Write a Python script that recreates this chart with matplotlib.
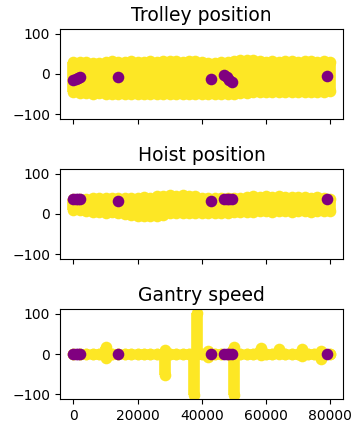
import matplotlib
matplotlib.use("Agg")
import matplotlib.pyplot as plt

# ---- data ----
titles = ["Trolley position", "Hoist position", "Gantry speed"]

# yellow series: envelope (min/max) per sampled time
trolley_x = [0, 2000, 4000, 6000, 8000, 10000, 12000, 14000, 16000, 18000, 20000,
             22000, 24000, 26000, 28000, 30000, 32000, 34000, 36000, 38000, 40000,
             42000, 44000, 46000, 48000, 50000, 52000, 54000, 56000, 58000, 60000,
             62000, 64000, 66000, 68000, 70000, 72000, 74000, 76000, 78000, 79800]
trolley_hi = [30, 31, 30, 27, 28, 31, 32, 30, 31, 32, 31,
              30, 32, 31, 32, 33, 32, 31, 32, 33, 31,
              27, 28, 30, 31, 33, 34, 35, 34, 33, 31,
              32, 31, 33, 32, 31, 32, 33, 31, 32, 30]
trolley_lo = [-46, -48, -48, -49, -48, -50, -49, -50, -49, -50, -50,
              -49, -51, -50, -49, -50, -51, -50, -49, -50, -51,
              -50, -49, -50, -50, -49, -48, -47, -45, -44, -45,
              -44, -45, -44, -45, -44, -45, -44, -45, -44, -42]

hoist_x = trolley_x
hoist_hi = [38, 38, 37, 40, 41, 40, 41, 40, 41, 40, 41,
            42, 41, 44, 46, 47, 46, 47, 46, 45, 41,
            40, 41, 40, 41, 40, 41, 42, 44, 43, 44,
            43, 44, 42, 43, 43, 42, 41, 42, 40, 38]
hoist_lo = [9, 9, 8, 5, 4, 3, 4, 3, 0, -3, -4,
            -4, -5, -4, -3, 2, 3, 2, 3, 2, 3,
            2, 3, 3, 3, 4, 4, 5, 6, 7, 7,
            6, 7, 7, 6, 7, 7, 6, 7, 7, 7]

gantry_x = [0, 2000, 4000, 6000, 8000, 10200, 12000, 14000, 16000, 18000, 20000,
            22000, 24000, 26000, 28400, 30000, 32000, 34000, 36000, 37600, 38400,
            40000, 41800, 44000, 46000, 48000, 50000, 52000, 54000, 56000, 58300,
            60000, 62000, 63900, 66000, 68000, 70000, 71100, 73000, 75000, 77000, 79800]
gantry_hi = [1, 1, 1, 1, 1, 17, 1, 1, 1, 1, 1,
             1, 1, 1, 10, 1, 1, 1, 1, 0, 102,
             1, 7, 1, 1, 1, 18, 1, 1, 1, 14,
             1, 1, 13, 1, 1, 1, 13, 1, 1, 8, 1]
gantry_lo = [-1, -1, -1, -1, -1, -10, -1, -1, -1, -1, -1,
             -1, -1, -1, -52, -1, -1, -1, -1, -102, 0,
             -1, -8, -1, -1, -1, -102, -1, -1, -1, -3,
             -1, -1, -1, -1, -1, -1, -5, -1, -1, -12, -1]

# purple points (events)
event_x = [0, 700, 1400, 2000, 13900, 43000, 47000, 47800, 48600, 49300, 79000]
trolley_ev = [-14, -12, -9, -8, -8, -12, -3, -7, -14, -20, -4]
hoist_ev = [37, 37, 37, 37, 33, 32, 37, 37, 37, 37, 37]
gantry_ev = [0, 0, 0, 0, 0, 0, 0, 0, 0, 0, 0]

y_ticks = [-100, 0, 100]

series = [
    (trolley_x, trolley_lo, trolley_hi, trolley_ev),
    (hoist_x, hoist_lo, hoist_hi, hoist_ev),
    (gantry_x, gantry_lo, gantry_hi, gantry_ev),
]

YELLOW = "#fde725"
PURPLE = "purple"
MS = 70  # marker area (pt^2)
LW = 8.4

fig, axes = plt.subplots(3, 1, sharex=True, sharey=True,
                         figsize=(3.54, 4.30), dpi=100)
fig.subplots_adjust(left=0.1695, right=0.969, top=0.9326, bottom=0.0721,
                    hspace=0.556)

for ax, title, (xs, lo, hi, ev) in zip(axes, titles, series):
    ax.vlines(xs, lo, hi, colors=YELLOW, linewidth=LW)
    ax.scatter(xs, lo, s=MS, color=YELLOW, linewidths=0, zorder=2)
    ax.scatter(xs, hi, s=MS, color=YELLOW, linewidths=0, zorder=2)
    ax.scatter(event_x, ev, s=MS, color=PURPLE, linewidths=0, zorder=3)
    ax.set_title(title, fontsize=13.5)
    ax.set_yticks(y_ticks)

axes[0].set_ylim(-112, 112)
axes[0].set_xlim(-4200, 84000)

fig.savefig("out.png", dpi=100)
